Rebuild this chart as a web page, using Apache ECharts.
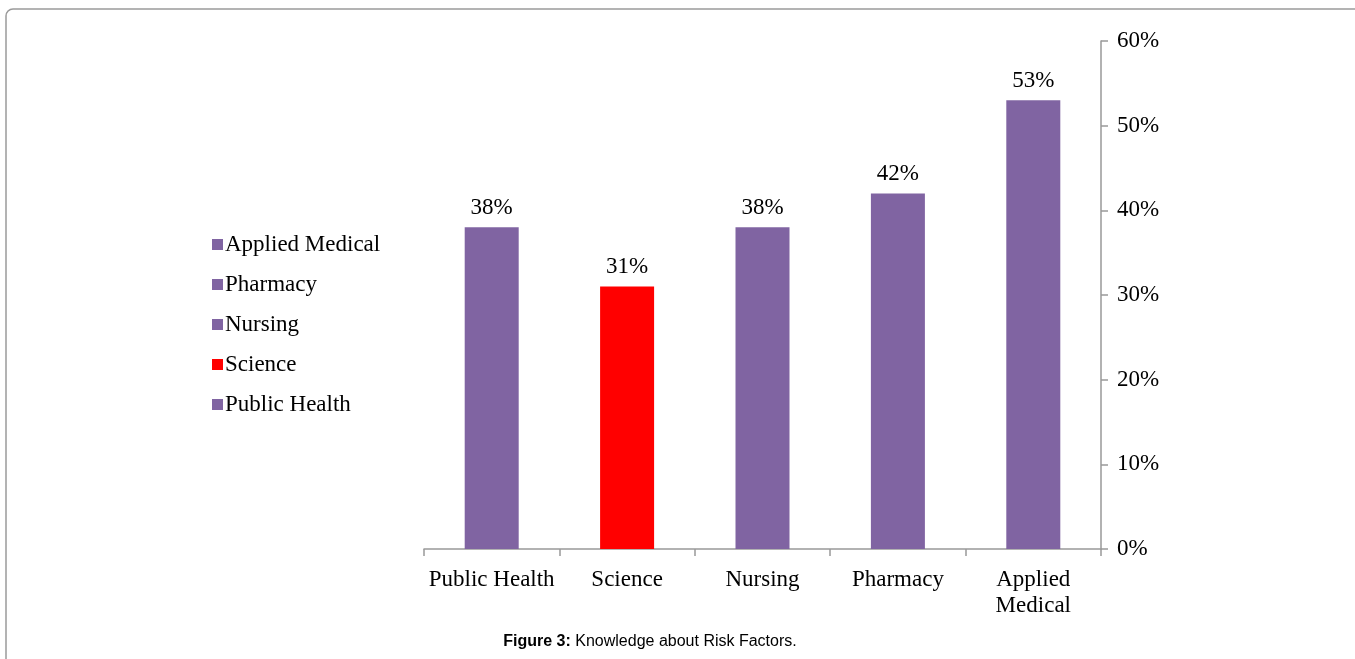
<!DOCTYPE html>
<html>
<head>
<meta charset="utf-8">
<script src="https://cdn.jsdelivr.net/npm/echarts@6/dist/echarts.min.js"></script>
<style>
  html, body { margin: 0; padding: 0; background: #fff; }
  #chart { width: 1355px; height: 659px; }
</style>
</head>
<body>
<div id="chart"></div>
<script>
// Share of students with knowledge about risk factors, by faculty
const categories = ['Public Health', 'Science', 'Nursing', 'Pharmacy', 'Applied Medical'];
const axisLabels = ['Public Health', 'Science', 'Nursing', 'Pharmacy', 'Applied\nMedical'];
const values = [38, 31, 38, 42, 53];
const barColors = ['#8064A2', '#FF0000', '#8064A2', '#8064A2', '#8064A2'];
const yTicks = { min: 0, max: 60, interval: 10 };

const serif = '"Liberation Serif", "DejaVu Serif", serif';

// One stacked series per faculty so each gets its own legend entry
const series = categories.map((name, i) => ({
  name: name,
  type: 'bar',
  stack: 'all',
  barWidth: 54,
  itemStyle: { color: barColors[i] },
  label: {
    show: true,
    position: 'top',
    distance: 8,
    formatter: '{c}%',
    fontFamily: serif,
    fontSize: 23,
    color: '#000'
  },
  data: categories.map((c, j) => (j === i ? values[i] : '-'))
}));

const chart = echarts.init(document.getElementById('chart'));
chart.setOption({
  animation: false,
  backgroundColor: '#fff',
  grid: { left: 424, right: 254, top: 41, bottom: 110, containLabel: false },
  legend: {
    orient: 'vertical',
    left: 207,
    top: 228,
    icon: 'rect',
    itemWidth: 11,
    itemHeight: 11,
    itemGap: 17,
    data: categories.slice().reverse(),
    textStyle: { fontFamily: serif, fontSize: 23, color: '#000', padding: [0, 0, 0, -3] }
  },
  xAxis: {
    type: 'category',
    data: axisLabels,
    axisLine: { show: true, lineStyle: { color: '#999', width: 1.5 } },
    axisTick: { show: true, alignWithLabel: false, length: 7, lineStyle: { color: '#999', width: 1.5 } },
    axisLabel: { fontFamily: serif, fontSize: 23, color: '#000', margin: 18, lineHeight: 26, interval: 0 }
  },
  yAxis: {
    type: 'value',
    position: 'right',
    min: yTicks.min,
    max: yTicks.max,
    interval: yTicks.interval,
    splitLine: { show: false },
    axisLine: { show: true, lineStyle: { color: '#999', width: 1.5 } },
    axisTick: { show: true, length: 7, lineStyle: { color: '#999', width: 1.5 } },
    axisLabel: { formatter: '{value}%', fontFamily: serif, fontSize: 23, color: '#000', margin: 16 }
  },
  graphic: [
    {
      type: 'rect',
      shape: { x: 6, y: 9, width: 1420, height: 720, r: 7 },
      style: { fill: 'none', stroke: '#9a9a9a', lineWidth: 1.5 },
      silent: true
    },
    {
      type: 'text',
      x: 650,
      y: 642,
      style: {
        text: '{b|Figure 3:} Knowledge about Risk Factors.',
        font: '16px "Liberation Sans", Arial, sans-serif',
        fill: '#000',
        align: 'center',
        verticalAlign: 'middle',
        rich: {
          b: { fontWeight: 'bold', fontFamily: '"Liberation Sans", Arial, sans-serif', fontSize: 16, fill: '#000' }
        }
      }
    }
  ],
  series: series
});
</script>
</body>
</html>
